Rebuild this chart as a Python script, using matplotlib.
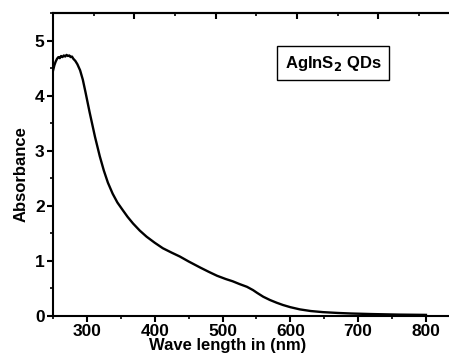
import numpy as np
import matplotlib.pyplot as plt
from matplotlib.ticker import MultipleLocator

# Absorptionsspektrum
wavelength = [250, 252, 254, 256, 258, 260, 262, 264, 266, 268, 270, 272,
              274, 276, 278, 280, 283, 286, 290, 294, 298, 304, 312, 319,
              325, 331, 338, 345, 353, 360, 368, 378, 388, 400, 412, 425,
              437, 450, 467, 480, 492, 505, 515, 525, 536, 545, 551, 560,
              570, 580, 589, 600, 614, 630, 648, 670, 690, 720, 760, 800]
absorbance = [4.45, 4.55, 4.62, 4.67, 4.70, 4.68, 4.72, 4.70, 4.73, 4.71,
              4.74, 4.72, 4.73, 4.70, 4.71, 4.67, 4.63, 4.57, 4.46, 4.29,
              4.06, 3.70, 3.25, 2.90, 2.64, 2.42, 2.22, 2.06, 1.92, 1.80,
              1.68, 1.55, 1.44, 1.33, 1.23, 1.15, 1.08, 0.99, 0.88, 0.80,
              0.73, 0.67, 0.63, 0.58, 0.53, 0.47, 0.42, 0.35, 0.29, 0.24,
              0.20, 0.16, 0.12, 0.09, 0.07, 0.055, 0.045, 0.035, 0.025, 0.02]

x_ticks = [300, 400, 500, 600, 700, 800]
y_ticks = [0, 1, 2, 3, 4, 5]
top_major = [370, 490, 610, 730]
top_minor = [310, 430, 550, 670, 790]

plt.rcParams["font.family"] = ["Liberation Sans", "DejaVu Sans"]
plt.rcParams["font.weight"] = "bold"

fig = plt.figure(figsize=(4.49, 3.56), dpi=100)
ax = fig.add_axes([0.118, 0.1124, 0.882, 0.851])

ax.plot(wavelength, absorbance, color="black", linewidth=1.7)

ax.set_xlim(250, 834)
ax.set_ylim(0, 5.5)
ax.set_xticks(x_ticks)
ax.set_yticks(y_ticks)
ax.xaxis.set_minor_locator(MultipleLocator(50))
ax.yaxis.set_minor_locator(MultipleLocator(0.5))

for s in ["left", "bottom", "top"]:
    ax.spines[s].set_linewidth(1.5)
ax.spines["right"].set_visible(False)

ax.tick_params(which="major", direction="out", length=4, width=1.5,
               labelsize=12.5, pad=2)
ax.tick_params(which="minor", direction="out", length=2.5, width=1.2)
for lab in ax.get_xticklabels() + ax.get_yticklabels():
    lab.set_fontweight("bold")

# Obere Achse mit eigenen Ticks (nach innen)
top = ax.secondary_xaxis("top")
top.set_xticks(top_major)
top.set_xticks(top_minor, minor=True)
top.set_xticklabels([])
top.tick_params(which="major", direction="in", length=4, width=1.5)
top.tick_params(which="minor", direction="in", length=2.5, width=1.2)
top.spines["top"].set_linewidth(1.5)

ax.set_xlabel("Wave length in (nm)", fontsize=12, fontweight="bold")
ax.xaxis.set_label_coords(0.442, -0.097)
ax.xaxis.label.set_va("center")
ax.set_ylabel("Absorbance", fontsize=12, fontweight="bold")
ax.yaxis.set_label_coords(-0.081, 0.47)
ax.yaxis.label.set_va("center")

ax.text(0.707, 0.835, r"AgInS$_\mathbf{2}$ QDs", transform=ax.transAxes,
        fontsize=12, fontweight="bold", ha="center", va="center",
        bbox=dict(boxstyle="square,pad=0.45", facecolor="white",
                  edgecolor="black", linewidth=1.0))

fig.savefig("out.png", dpi=100)
